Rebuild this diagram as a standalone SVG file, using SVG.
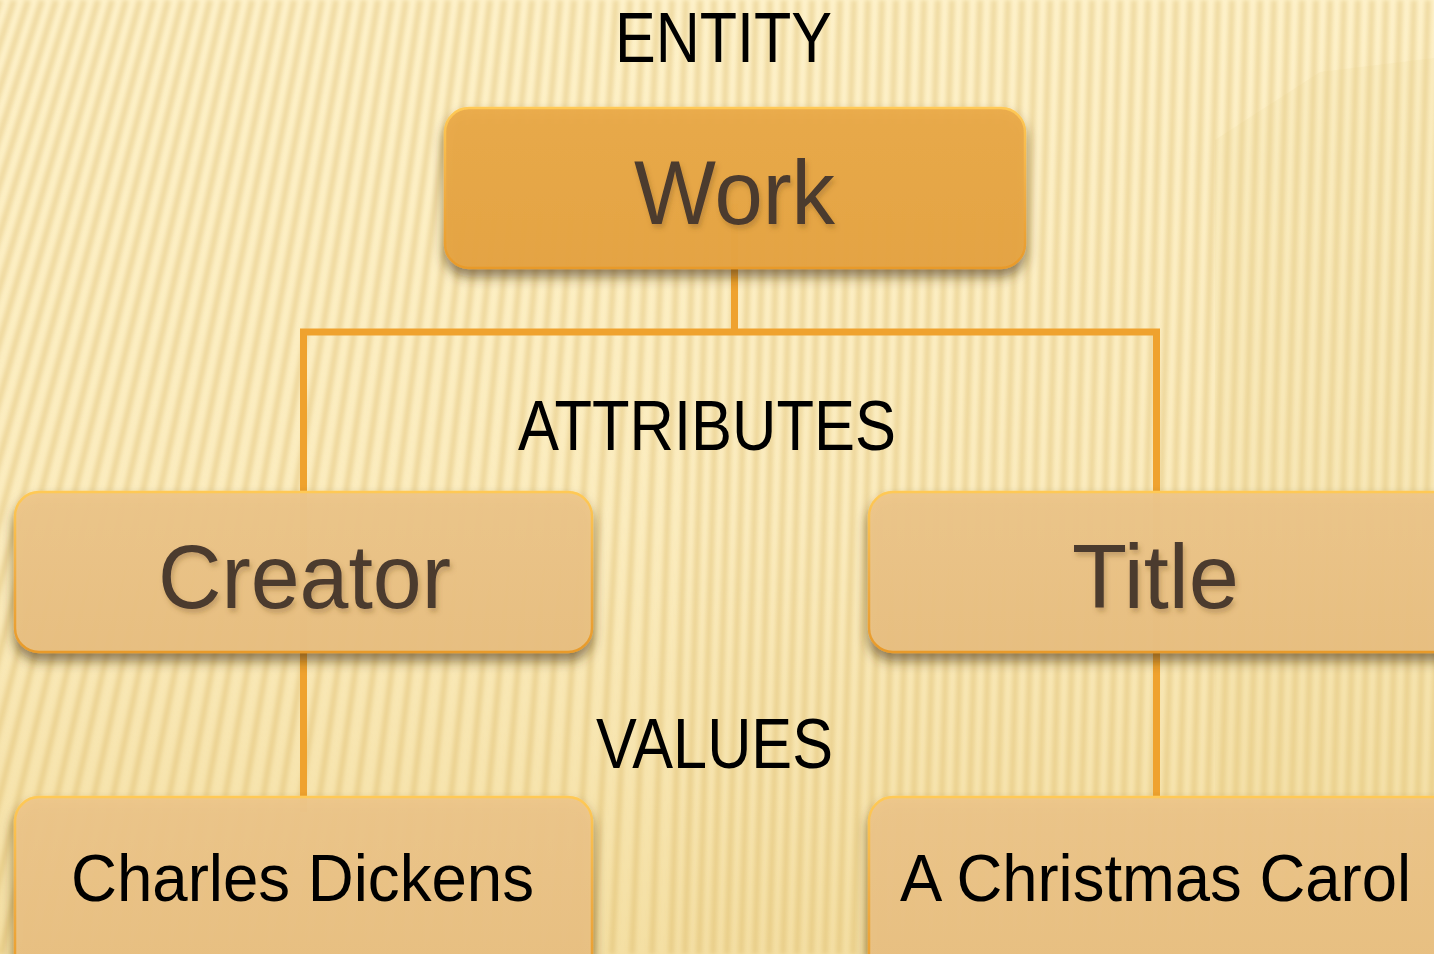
<svg xmlns="http://www.w3.org/2000/svg" width="1434" height="954" viewBox="0 0 1434 954">
<defs>
  <linearGradient id="bg" x1="0" y1="0" x2="0" y2="1">
    <stop offset="0" stop-color="#FEF2CA"/>
    <stop offset="0.55" stop-color="#FBECBE"/>
    <stop offset="1" stop-color="#F4DFA3"/>
  </linearGradient>
  <linearGradient id="gWork" x1="0" y1="0" x2="0" y2="1">
    <stop offset="0" stop-color="#EAAA49"/>
    <stop offset="1" stop-color="#E6A443"/>
  </linearGradient>
  <linearGradient id="gLight" x1="0" y1="0" x2="0" y2="1">
    <stop offset="0" stop-color="#EDC68A"/>
    <stop offset="1" stop-color="#E9C081"/>
  </linearGradient>
  <linearGradient id="edge" x1="0" y1="0" x2="0" y2="1">
    <stop offset="0" stop-color="#FFC955"/>
    <stop offset="0.5" stop-color="#F0AE45"/>
    <stop offset="1" stop-color="#E89A2A"/>
  </linearGradient>
  <filter id="soft" x="-5%" y="-5%" width="110%" height="110%">
    <feGaussianBlur stdDeviation="2"/>
  </filter>
  <filter id="shadow" x="-10%" y="-20%" width="120%" height="150%">
    <feDropShadow dx="0" dy="8" stdDeviation="6" flood-color="#4A3418" flood-opacity="0.6"/>
  </filter>
  <filter id="tshadow" x="-10%" y="-20%" width="120%" height="150%">
    <feDropShadow dx="2" dy="4" stdDeviation="2.5" flood-color="#6B4A20" flood-opacity="0.3"/>
  </filter>
</defs>
<style>
  .conn { stroke:#EFA22E; stroke-width:7; fill:none; }
  .box-dark { fill:url(#gWork); stroke:url(#edge); stroke-width:2.5; fill-opacity:0.96; }
  .box-light { fill:url(#gLight); stroke:url(#edge); stroke-width:2.5; fill-opacity:0.96; }
  .lbl { font-family:"Liberation Sans", Arial, sans-serif; fill:#000; font-size:70px; }
  .nt { font-family:"Liberation Sans", Arial, sans-serif; fill:#4B3A2E; font-size:91px; }
  .vt { font-family:"Liberation Sans", Arial, sans-serif; fill:#000; font-size:66px; }
  .stripes { stroke:#D6AF58; stroke-opacity:0.36; stroke-width:6; fill:none; }
</style>

<g id="background">
  <rect x="0" y="0" width="1434" height="954" fill="url(#bg)"/>
  <path class="stripes" filter="url(#soft)" d="M0 0L-315 954M14 0L-295 954M28 0L-275 954M42 0L-256 954M56 0L-236 954M70 0L-216 954M84 0L-196 954M98 0L-177 954M112 0L-157 954M126 0L-137 954M140 0L-118 954M154 0L-98 954M168 0L-78 954M182 0L-58 954M196 0L-39 954M210 0L-19 954M224 0L1 954M238 0L21 954M252 0L40 954M266 0L60 954M280 0L80 954M294 0L99 954M308 0L119 954M322 0L139 954M336 0L159 954M350 0L178 954M364 0L198 954M378 0L218 954M392 0L238 954M406 0L257 954M420 0L277 954M434 0L297 954M448 0L316 954M462 0L336 954M476 0L356 954M490 0L376 954M504 0L395 954M518 0L415 954M532 0L435 954M546 0L455 954M560 0L474 954M574 0L494 954M588 0L514 954M602 0L533 954M616 0L553 954M630 0L573 954M644 0L593 954M658 0L612 954M672 0L632 954M686 0L652 954M700 0L671 954M714 0L685 954M728 0L699 954M742 0L713 954M756 0L727 954M770 0L741 954M784 0L755 954M798 0L769 954M812 0L783 954M826 0L797 954M840 0L811 954M854 0L825 954M868 0L839 954M882 0L853 954M896 0L867 954M910 0L881 954M924 0L895 954M938 0L909 954M952 0L923 954M966 0L937 954M980 0L951 954M994 0L965 954M1008 0L979 954M1022 0L993 954M1036 0L1007 954M1050 0L1021 954M1064 0L1035 954M1078 0L1049 954M1092 0L1063 954M1106 0L1077 954M1120 0L1091 954M1134 0L1105 954M1148 0L1119 954M1162 0L1133 954M1176 0L1147 954M1190 0L1161 954M1204 0L1175 954M1218 0L1189 954M1232 0L1203 954M1246 0L1217 954M1260 0L1231 954M1274 0L1245 954M1288 0L1259 954M1302 0L1273 954M1316 0L1287 954M1330 0L1301 954M1344 0L1315 954M1358 0L1329 954M1372 0L1343 954M1386 0L1357 954M1400 0L1371 954M1414 0L1385 954M1428 0L1399 954M1442 0L1413 954M1456 0L1427 954M1470 0L1441 954"/>
  <polygon points="1215,140 1320,72 1434,58 1434,954 1215,954" fill="#E8CC80" opacity="0.12"/>
</g>

<g id="connectors">
  <path class="conn" d="M734.5 204 V332"/>
  <path class="conn" d="M303.5 491 V332 H1156.5 V491"/>
  <path class="conn" d="M303.5 491 V812"/>
  <path class="conn" d="M1156.5 491 V800"/>
</g>

<text class="lbl" x="615" y="62" textLength="217" lengthAdjust="spacingAndGlyphs">ENTITY</text>
<text class="lbl" x="518" y="450" textLength="378" lengthAdjust="spacingAndGlyphs">ATTRIBUTES</text>
<text class="lbl" x="596" y="768" textLength="237" lengthAdjust="spacingAndGlyphs">VALUES</text>

<g id="node-work">
  <rect class="box-dark" x="445" y="108" width="580" height="160" rx="24" filter="url(#shadow)"/>
  <text class="nt" x="634" y="224" textLength="201" lengthAdjust="spacingAndGlyphs" filter="url(#tshadow)">Work</text>
</g>

<g id="node-creator">
  <rect class="box-light" x="15" y="492" width="577" height="160" rx="24" filter="url(#shadow)"/>
  <text class="nt" x="158" y="608" textLength="293" lengthAdjust="spacingAndGlyphs" filter="url(#tshadow)">Creator</text>
</g>

<g id="node-title">
  <rect class="box-light" x="869" y="492" width="600" height="160" rx="24" filter="url(#shadow)"/>
  <text class="nt" x="1072" y="608" textLength="167" lengthAdjust="spacingAndGlyphs" filter="url(#tshadow)">Title</text>
</g>

<g id="node-dickens">
  <rect class="box-light" x="15" y="797" width="577" height="190" rx="24" filter="url(#shadow)"/>
  <text class="vt" x="71" y="901" textLength="463" lengthAdjust="spacingAndGlyphs">Charles Dickens</text>
</g>

<g id="node-carol">
  <rect class="box-light" x="869" y="797" width="600" height="190" rx="24" filter="url(#shadow)"/>
  <text class="vt" x="900" y="901" textLength="511" lengthAdjust="spacingAndGlyphs">A Christmas Carol</text>
</g>
</svg>
